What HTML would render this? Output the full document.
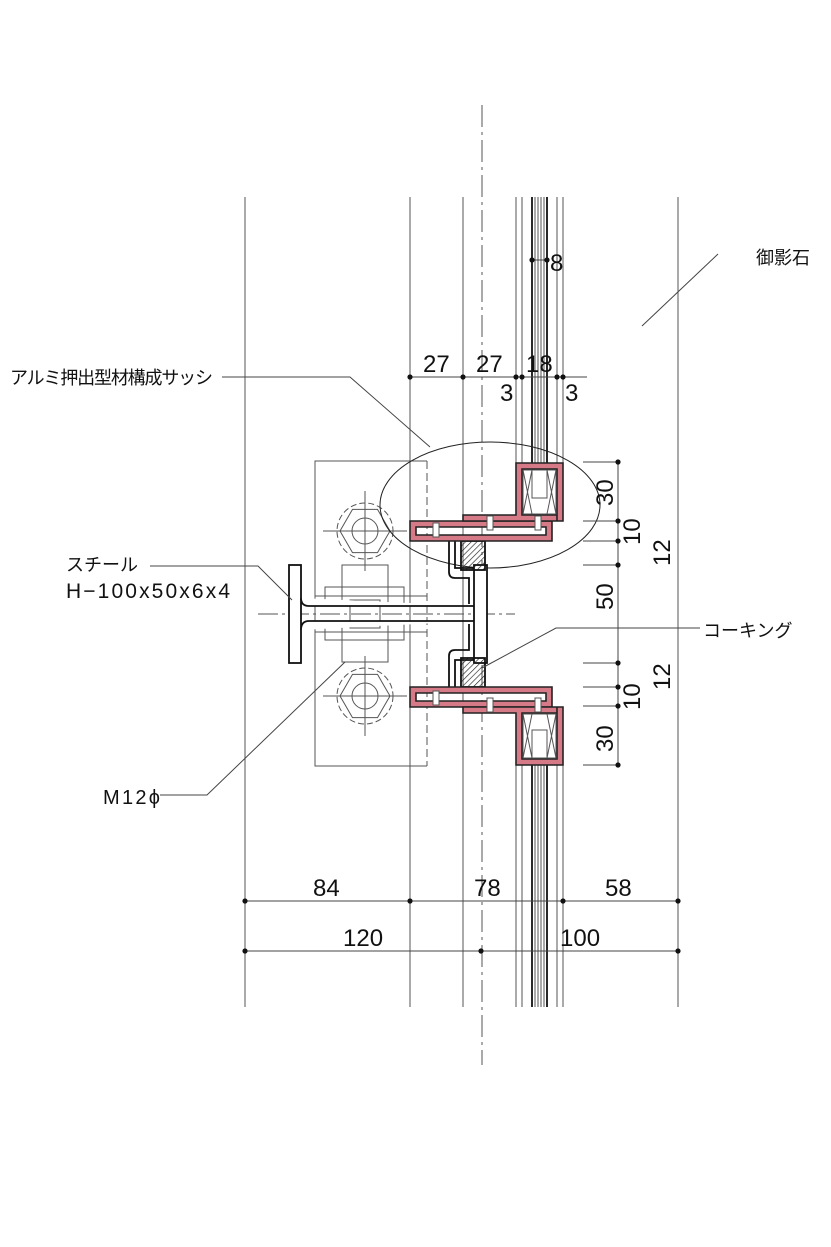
<!DOCTYPE html>
<html><head><meta charset="utf-8"><style>
html,body{margin:0;padding:0;background:#fff}
svg{display:block}
text{font-family:"Liberation Sans","Noto Sans CJK JP",sans-serif;fill:#111}
</style></head><body>
<svg width="831" height="1247" viewBox="0 0 831 1247" xmlns="http://www.w3.org/2000/svg">
<defs>
<pattern id="h" width="4" height="4" patternUnits="userSpaceOnUse" patternTransform="rotate(45)">
<line x1="0" y1="0" x2="0" y2="4" stroke="#222" stroke-width="1.3"/></pattern>
</defs>
<g stroke="#555" stroke-width="1" fill="none">
<line x1="245" y1="197" x2="245" y2="1007"/>
<line x1="410" y1="197" x2="410" y2="1007"/>
<line x1="463" y1="197" x2="463" y2="1007"/>
<line x1="516" y1="197" x2="516" y2="1007"/>
<line x1="522" y1="197" x2="522" y2="1007"/>
<line x1="535" y1="197" x2="535" y2="1007"/>
<line x1="538" y1="197" x2="538" y2="1007"/>
<line x1="541" y1="197" x2="541" y2="1007"/>
<line x1="544" y1="197" x2="544" y2="1007"/>
<line x1="557" y1="197" x2="557" y2="1007"/>
<line x1="563" y1="197" x2="563" y2="1007"/>
<line x1="678" y1="197" x2="678" y2="1007"/>
</g>
<g stroke="#111" stroke-width="1.8"><line x1="532" y1="197" x2="532" y2="1007"/><line x1="547" y1="197" x2="547" y2="1007"/></g>
<rect x="515" y="463" width="50" height="302" fill="#fff"/>
<line x1="482" y1="105" x2="482" y2="1065" stroke="#555" stroke-dasharray="22,5,3,5"/>
<g stroke="#555" stroke-width="1" fill="none">
<path d="M427 461 H315 V766 H427"/>
<line x1="427" y1="461" x2="427" y2="766" stroke-dasharray="8,4"/>
<g transform="translate(365,531)"><circle r="28" stroke-dasharray="6,3"/><polygon points="25,0 12.5,21.6 -12.5,21.6 -25,0 -12.5,-21.6 12.5,-21.6"/><circle r="13"/><line x1="-42" y1="0" x2="42" y2="0"/><line x1="0" y1="-40" x2="0" y2="40"/></g>
<g transform="translate(365,696)"><circle r="28" stroke-dasharray="6,3"/><polygon points="25,0 12.5,21.6 -12.5,21.6 -25,0 -12.5,-21.6 12.5,-21.6"/><circle r="13"/><line x1="-42" y1="0" x2="42" y2="0"/><line x1="0" y1="-40" x2="0" y2="40"/></g>
<rect x="342" y="565" width="46" height="40"/><rect x="325" y="587" width="79" height="18"/>
<rect x="342" y="622" width="46" height="40"/><rect x="325" y="622" width="79" height="18"/>
<rect x="350" y="600" width="30" height="28"/>
<line x1="315" y1="596" x2="427" y2="596"/><line x1="315" y1="632" x2="427" y2="632"/>
<line x1="258" y1="614" x2="515" y2="614" stroke-dasharray="20,4,3,4"/>
<ellipse cx="490" cy="505" rx="110" ry="63" stroke="#222"/>
</g>
<g stroke="#111" stroke-width="1.8" fill="#fff">
<rect x="289" y="565" width="12" height="98"/>
<path d="M301 598 Q301 606 309 606 H474 M301 630 Q301 621 309 621 H474"/>
<rect x="474" y="565" width="13" height="98"/>
<rect x="461" y="541" width="24" height="29" fill="url(#h)"/>
<rect x="461" y="658" width="24" height="29" fill="url(#h)"/>
<path d="M449 541 V572 Q449 578 455 578 H469 V604 M455 541 V568 H474" fill="none"/>
<path d="M449 687 V656 Q449 650 455 650 H469 V624 M455 687 V660 H474" fill="none"/>
</g>
<g fill="#d77a88" stroke="#222" stroke-width="1.6">
<path d="M410 521 H552 V541 H410 Z M416 527 V535 H546 V527 Z" fill-rule="evenodd"/>
<path d="M463 521 V515 H516 V463 H563 V521 H557 V469 H522 V515 H557 V521 Z"/>
<path d="M410 687 H552 V707 H410 Z M416 693 V701 H546 V693 Z" fill-rule="evenodd"/>
<path d="M463 707 V713 H516 V765 H563 V707 H557 V759 H522 V713 H557 V707 Z"/>
</g>
<g stroke="#555" stroke-width="1" fill="#fff">
<rect x="523" y="470" width="33" height="44"/><rect x="523" y="714" width="33" height="44"/>
<path d="M523 470 L532 514 M532 470 L523 514 M547 470 L556 514 M556 470 L547 514 M523 714 L532 758 M532 714 L523 758 M547 714 L556 758 M556 714 L547 758"/>
<rect x="532" y="470" width="15" height="28" fill="#fff"/>
<rect x="532" y="730" width="15" height="28" fill="#fff"/>
<rect x="433" y="523" width="6" height="14"/><rect x="487" y="516" width="6" height="14"/><rect x="535" y="516" width="6" height="14"/>
<rect x="433" y="691" width="6" height="14"/><rect x="487" y="698" width="6" height="14"/><rect x="535" y="698" width="6" height="14"/>
</g>
<g stroke="#444" stroke-width="1" fill="none">
<line x1="410" y1="377" x2="587" y2="377"/>
<line x1="532" y1="260" x2="547" y2="260"/>
<line x1="618" y1="462" x2="618" y2="765"/>
<path d="M583 462H618 M583 521H618 M583 541H618 M583 565H618 M583 663H618 M583 687H618 M583 706H618 M583 765H618"/>
<line x1="245" y1="901" x2="678" y2="901"/>
<line x1="245" y1="951" x2="678" y2="951"/>
<path d="M718 254 L642 326"/>
<path d="M222 377 H350 L430 447"/>
<path d="M150 566 H258 L292 600"/>
<path d="M700 628 H556 L482 668"/>
<path d="M160 795 H207 L345 662"/>
</g>
<g fill="#111">
<circle cx="410" cy="377" r="2.6"/><circle cx="463" cy="377" r="2.6"/><circle cx="516" cy="377" r="2.6"/><circle cx="522" cy="377" r="2.6"/><circle cx="557" cy="377" r="2.6"/><circle cx="563" cy="377" r="2.6"/>
<circle cx="532" cy="260" r="2.6"/><circle cx="547" cy="260" r="2.6"/>
<circle cx="618" cy="462" r="2.6"/><circle cx="618" cy="521" r="2.6"/><circle cx="618" cy="541" r="2.6"/><circle cx="618" cy="565" r="2.6"/><circle cx="618" cy="663" r="2.6"/><circle cx="618" cy="687" r="2.6"/><circle cx="618" cy="706" r="2.6"/><circle cx="618" cy="765" r="2.6"/>
<circle cx="245" cy="901" r="2.6"/><circle cx="410" cy="901" r="2.6"/><circle cx="563" cy="901" r="2.6"/><circle cx="678" cy="901" r="2.6"/>
<circle cx="245" cy="951" r="2.6"/><circle cx="481" cy="951" r="2.6"/><circle cx="678" cy="951" r="2.6"/>
</g>
<g font-size="24">
<text x="423" y="372">27</text><text x="476" y="372">27</text><text x="526" y="372">18</text>
<text x="500" y="401">3</text><text x="565" y="401">3</text>
<text x="550" y="271">8</text>
<text x="313" y="896">84</text><text x="474" y="896">78</text><text x="605" y="896">58</text>
<text x="343" y="946">120</text><text x="560" y="946">100</text>
<text transform="translate(613,506) rotate(-90)">30</text>
<text transform="translate(640,545) rotate(-90)">10</text>
<text transform="translate(670,566) rotate(-90)">12</text>
<text transform="translate(613,610) rotate(-90)">50</text>
<text transform="translate(670,690) rotate(-90)">12</text>
<text transform="translate(640,710) rotate(-90)">10</text>
<text transform="translate(613,752) rotate(-90)">30</text>
</g>
<g font-size="18">
<text x="756" y="264">御影石</text>
<text x="10" y="384" textLength="203">アルミ押出型材構成サッシ</text>
<text x="66" y="571">スチール</text>
<text x="66" y="598" font-size="21" textLength="164">H−100x50x6x4</text>
<text x="703" y="637">コーキング</text>
<text x="103" y="804" font-size="20" textLength="57">M12ϕ</text>
</g>
</svg>
</body></html>
